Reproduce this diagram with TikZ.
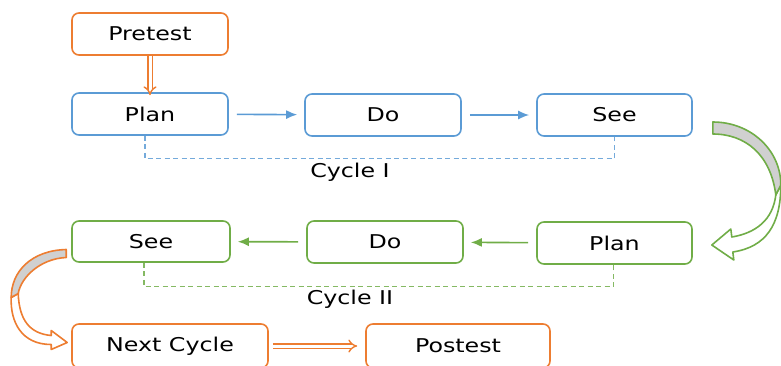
\documentclass[tikz,border=0pt]{standalone}
\usepackage{fontspec}
\setmainfont{DejaVu Sans}[FakeStretch=1.25]
\usetikzlibrary{arrows.meta,calc}
\definecolor{cor}{HTML}{ED7D31}
\definecolor{cbl}{HTML}{5B9BD5}
\definecolor{cgr}{HTML}{70AD47}
\definecolor{cgy}{HTML}{D0D0D0}
\begin{document}
\begin{tikzpicture}[x=1pt,y=-1pt,
  box/.style={draw, rounded corners=7pt, line width=1.6pt, minimum width=156pt, minimum height=42pt, inner sep=0pt, font=\fontsize{19}{22}\selectfont, text=black},
  sarrow/.style={line width=1.6pt, -{Latex[length=11pt,width=9pt]}, shorten <=8pt, shorten >=7pt},
  dbl/.style={cor, line width=1.4pt, double=white, double distance=3pt, -{Implies}},
  bracket/.style={line width=1.1pt, dash pattern=on 5pt off 3.5pt},
  lbl/.style={font=\fontsize{19}{22}\selectfont, text=black},
  curv/.style={line width=1.6pt, line join=round}]
\useasboundingbox (0,0) rectangle (781,365);
% row 1
\node[box, draw=cor] (pre) at (150,34) {Pretest};
\node[box, draw=cbl] (p1) at (150,114) {Plan};
\node[box, draw=cbl] (d1) at (383,115) {Do};
\node[box, draw=cbl, minimum width=155pt] (s1) at (614.5,115) {See};
% row 2
\node[box, draw=cgr, minimum width=158pt, minimum height=41pt] (s2) at (151,241.5) {See};
\node[box, draw=cgr] (d2) at (385,242) {Do};
\node[box, draw=cgr, minimum width=155pt] (p2) at (614.5,243) {Plan};
% row 3
\node[box, draw=cor, minimum width=196pt, minimum height=44pt] (nx) at (170,346) {Next Cycle};
\node[box, draw=cor, minimum width=184pt, minimum height=44pt] (po) at (458,346) {Postest};
% arrows
\draw[sarrow, cbl] (p1) -- (d1);
\draw[sarrow, cbl] (d1) -- (s1);
\draw[sarrow, cgr] (p2) -- (d2);
\draw[sarrow, cgr] (d2) -- (s2);
\draw[dbl] (pre.south) -- ([yshift=-3pt]p1.north);
\draw[dbl, shorten <=4pt] (nx.east) -- ([xshift=-8pt]po.west);
% brackets
\draw[bracket, cbl!85] ([xshift=-5pt]p1.south) -- ++(0,23) -| (s1.south);
\node[lbl] (c1) at (350,172) {Cycle I};
\draw[bracket, cgr!85] ([xshift=-7pt]s2.south) -- ++(0,24) -| ([xshift=-1pt]p2.south);
\node[lbl] (c2) at (350,299) {Cycle II};
% curved green arrow
\begin{scope}[shift={(s1.east)}]
 \draw[curv, cgr, fill=white] (83,80) .. controls (80,105) and (63,118) .. (39,122) -- (38,114) -- (19,130) -- (41,145) -- (40,137) .. controls (73,132) and (88,110) .. (88,70) -- cycle;
 \draw[curv, cgr, fill=cgy] (20,7) .. controls (58,7) and (88,35) .. (88,70) -- (83,80) .. controls (78,40) and (53,19) .. (20,19) -- cycle;
\end{scope}
% curved orange arrow
\begin{scope}[shift={(s2.west)}]
 \draw[curv, cor, fill=white] (-53,52) .. controls (-52,78) and (-42,92) .. (-20,94) -- (-20,89) -- (-4,101) -- (-20,108) -- (-20,103) .. controls (-50,103) and (-61,80) .. (-60,56) -- cycle;
 \draw[curv, cor, fill=cgy] (-5,8) .. controls (-40,9) and (-60,30) .. (-60,56) -- (-53,52) .. controls (-50,35) and (-30,17) .. (-5,16) -- cycle;
\end{scope}
\end{tikzpicture}
\end{document}
